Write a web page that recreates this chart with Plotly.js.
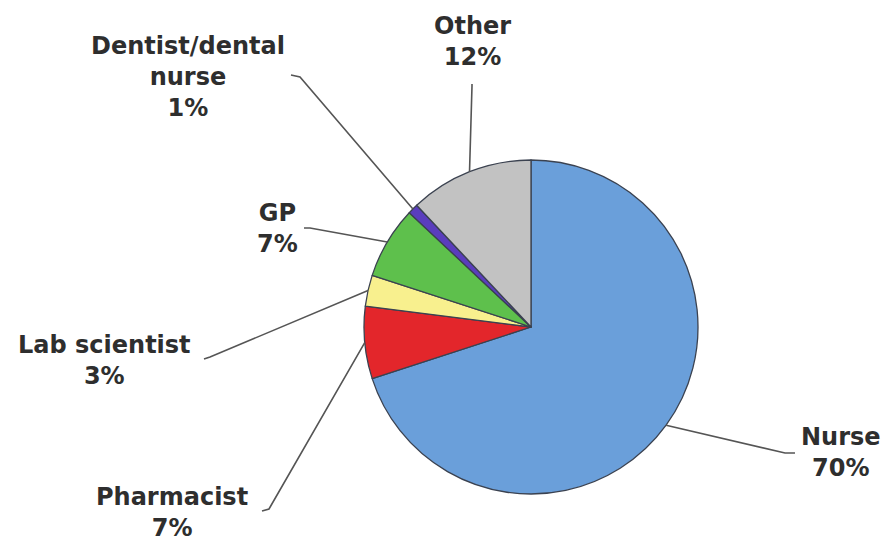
<!DOCTYPE html>
<html>
<head>
<meta charset="utf-8">
<script src="https://cdn.plot.ly/plotly-3.0.1.min.js"></script>
<style>
  html, body { margin: 0; padding: 0; background: #fff; }
  #chart { width: 888px; height: 541px; }
</style>
</head>
<body>
<div id="chart"></div>
<script>
// Respondent professions (share of total, %)
const categories = ["Nurse", "Pharmacist", "Lab scientist", "GP", "Dentist/dental nurse", "Other"];
const displayLabels = ["Nurse", "Pharmacist", "Lab scientist", "GP", "Dentist/dental<br>nurse", "Other"];
const shares = [70, 7, 3, 7, 1, 12];
const colors = ["#6a9fda", "#e3262b", "#f8f08e", "#5ec04c", "#5a3dbd", "#c2c2c2"];

// Layout of the pie in pixels
const W = 888, H = 541;
const cx = 531, cy = 327, R = 167;

// Label anchor (text centre) and leader line start/elbow, in pixels
const labelPos = [
  { x: 841, y: 452, tail: [[795, 453], [785, 453]] },
  { x: 172, y: 512, tail: [[262, 511], [269, 509]] },
  { x: 104, y: 360, tail: [[204, 359], [210, 357]] },
  { x: 277, y: 228, tail: [[304, 228], [310, 228]] },
  { x: 188, y: 77,  tail: [[291, 75], [300, 77]] },
  { x: 472, y: 42,  tail: [[472, 84], [472, 86]] }
];

const px = v => v / W;
const py = v => 1 - v / H;

// Leader lines run from the label to the edge of the slice midpoint
const total = shares.reduce((a, b) => a + b, 0);
let cum = 0;
const shapes = [];
const annotations = [];
shares.forEach((v, i) => {
  const mid = (cum + v / 2) / total * 2 * Math.PI; // clockwise from 12 o'clock
  cum += v;
  const tx = cx + R * Math.sin(mid);
  const ty = cy - R * Math.cos(mid);
  const lp = labelPos[i];
  const pts = lp.tail.concat([[tx, ty]]);
  const d = pts.map((p, k) => (k ? "L" : "M") + px(p[0]).toFixed(5) + "," + py(p[1]).toFixed(5)).join(" ");
  shapes.push({
    type: "path", xref: "paper", yref: "paper", path: d,
    line: { color: "#555555", width: 1.6 }
  });
  annotations.push({
    xref: "paper", yref: "paper", x: px(lp.x), y: py(lp.y),
    xanchor: "center", yanchor: "middle", showarrow: false, align: "center",
    text: "<b>" + displayLabels[i] + "<br>" + v + "%</b>",
    font: { family: "DejaVu Sans", size: 24, color: "#2e2e2e" }
  });
});

const data = [{
  type: "pie",
  labels: categories,
  values: shares,
  sort: false,
  direction: "clockwise",
  rotation: 0,
  textinfo: "none",
  textposition: "none",
  hoverinfo: "label+percent",
  marker: { colors: colors, line: { color: "#3b4250", width: 1.3 } },
  domain: { x: [px(cx - R), px(cx + R)], y: [py(cy + R), py(cy - R)] },
  showlegend: false
}];

const layout = {
  width: W, height: H,
  margin: { l: 0, r: 0, t: 0, b: 0 },
  paper_bgcolor: "#ffffff",
  showlegend: false,
  shapes: shapes,
  annotations: annotations
};

Plotly.newPlot("chart", data, layout, { displayModeBar: false, staticPlot: true });
</script>
</body>
</html>
